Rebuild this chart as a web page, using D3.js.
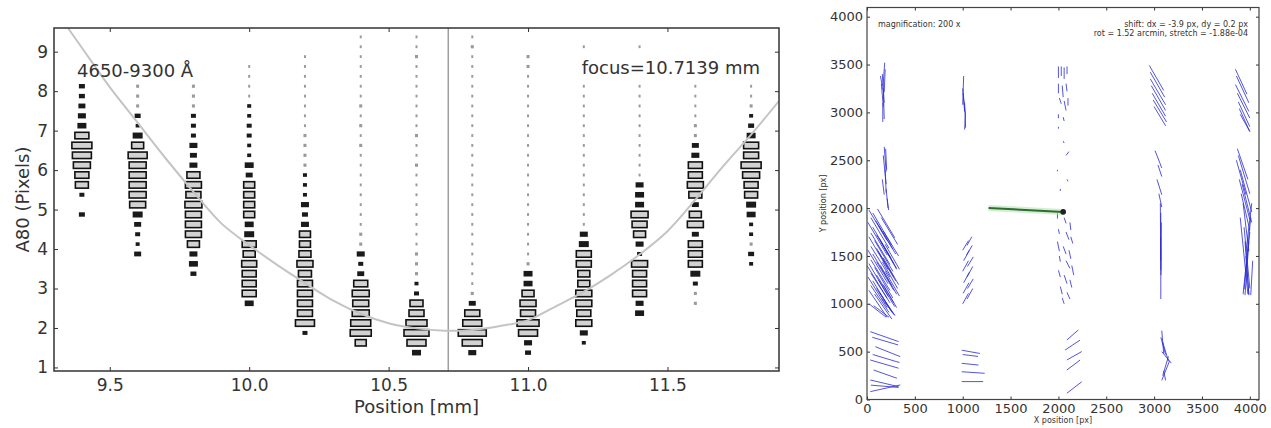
<!doctype html>
<html lang="en">
<head>
<meta charset="utf-8">
<title>A80 focus curve and field distortion</title>
<script src="https://d3js.org/d3.v7.min.js"></script>
<style>
body { margin: 0; background: #fff; }
text { font-family: "DejaVu Sans", sans-serif; fill: #333; }
.axis line { stroke: #333; }
.axis path { display: none; }
</style>
</head>
<body>
<svg width="1271" height="428"></svg>
<script>
// ---- left panel: A80 distribution per focus position ----
var positions = [9.4, 9.6, 9.8, 10.0, 10.2, 10.4, 10.6, 10.8, 11.0, 11.2, 11.4, 11.6, 11.8];
var a80Bins = [1.375, 1.625, 1.875, 2.125, 2.375, 2.625, 2.875, 3.125, 3.375, 3.625, 3.875,
  4.125, 4.375, 4.625, 4.875, 5.125, 5.375, 5.625, 5.875, 6.125, 6.375, 6.625, 6.875,
  7.125, 7.375, 7.625, 7.875, 8.125, 8.375, 8.625, 8.875, 9.125, 9.375];
// star counts per bin, bottom (1.375) to top (9.375)
var counts = [
  [0,0,0,0,0,0,0,0,0,0,0,0,0,0,6,0,5,13,14,17,19,20,14,9,8,7,6,6,0,0,0,0,0],
  [0,0,0,0,0,0,0,0,0,0,7,4,5,7,10,16,17,17,17,17,19,12,10,4,6,3,3,3,0,0,0,0,0],
  [0,0,0,0,0,0,0,0,6,9,8,12,16,16,16,17,15,16,13,8,7,8,5,5,5,3,3,3,0,0,0,0,0],
  [0,0,0,0,0,9,14,14,14,15,12,14,10,9,11,11,11,11,7,9,4,4,5,5,4,4,2,2,2,2,0,0,0],
  [0,0,5,19,15,15,15,15,13,16,12,11,11,8,6,8,4,4,4,3,3,3,3,2,2,2,2,2,2,2,2,0,0],
  [0,11,21,20,17,16,17,14,7,5,8,3,3,2,2,2,2,2,2,2,2,3,2,3,2,3,2,2,2,2,2,2,2],
  [9,19,25,21,15,13,5,4,3,3,3,2,2,2,2,2,2,2,2,3,2,2,3,2,2,2,2,2,2,2,3,2,2],
  [8,20,28,19,15,7,3,2,2,2,2,2,2,2,2,2,2,2,2,2,2,2,2,2,2,2,2,2,2,2,2,3,2],
  [6,8,19,22,15,16,12,9,9,3,2,2,2,2,2,2,2,2,2,2,2,2,2,2,2,2,2,2,2,3,3,0,0],
  [0,4,8,16,14,16,16,12,12,15,15,10,8,2,2,2,2,2,2,2,2,2,2,2,2,2,2,2,0,0,0,2,0],
  [0,0,0,0,9,8,14,14,14,16,5,8,12,15,17,9,9,8,2,2,2,2,2,2,2,2,2,2,0,0,0,2,0],
  [0,0,0,0,0,3,3,5,10,14,14,14,7,16,12,7,13,16,14,14,8,7,3,3,2,2,2,2,0,0,0,0,0],
  [0,0,0,0,0,0,0,0,0,4,6,3,4,4,9,10,13,14,17,20,15,15,9,6,4,3,2,2,0,0,0,0,0]
];
// fitted focus curve
var fitPos = [9.35, 9.4, 9.5, 9.6, 9.7, 9.8, 9.9, 10.0, 10.1, 10.2, 10.3, 10.4, 10.5, 10.6,
  10.7, 10.8, 10.9, 11.0, 11.1, 11.2, 11.3, 11.4, 11.5, 11.6, 11.7, 11.8, 11.9];
var fitA80 = [9.6, 9.1, 8.1, 7.2, 6.3, 5.45, 4.65, 4.1, 3.6, 3.14, 2.7, 2.36, 2.12, 1.99,
  1.93, 1.95, 2.05, 2.2, 2.55, 2.92, 3.36, 3.86, 4.45, 5.25, 6.1, 6.9, 7.75];
var focus = 10.7139;
var xTicks = [9.5, 10.0, 10.5, 11.0, 11.5];
var yTicks = [1, 2, 3, 4, 5, 6, 7, 8, 9];

// ---- right panel: residual vectors (x, y, dx, dy in px) ----
var magnification = 200;
var shift = { x: 2050, y: 1960, dx: -3.9, dy: 0.2 };
var colA = [
  [34,709,1.48,-0.52],[55,650,1.35,-0.40],[87,552,1.30,-0.52],[60,470,1.40,-0.42],
  [34,413,1.48,-0.43],[69,308,1.22,-0.43],[34,204,1.48,-0.35],[40,150,1.45,-0.12],[34,82,1.57,0.35],
  [20,1980,0.95,-1.6],[60,1950,1.0,-1.7],[110,1990,0.9,-1.5],[150,1900,0.85,-1.4],
  [10,1850,1.0,-1.7],[60,1800,0.95,-1.6],[120,1820,0.9,-1.5],[170,1760,0.8,-1.3],
  [20,1700,1.0,-1.7],[80,1660,0.95,-1.6],[130,1680,0.9,-1.55],[190,1620,0.75,-1.3],
  [10,1560,1.05,-1.75],[60,1520,1.0,-1.65],[120,1540,0.9,-1.5],[170,1480,0.8,-1.4],
  [20,1420,1.0,-1.7],[80,1380,0.95,-1.6],[140,1400,0.85,-1.5],[190,1340,0.75,-1.3],
  [10,1280,1.0,-1.6],[60,1240,0.95,-1.55],[120,1250,0.85,-1.4],[170,1200,0.7,-1.2],
  [20,1140,0.95,-1.4],[80,1100,0.9,-1.3],[130,1120,0.8,-1.2],[20,1000,0.9,-0.7],[70,980,0.8,-0.6],
  [40,1900,0.95,-1.6],[90,1870,0.9,-1.5],[40,1740,1.0,-1.65],[100,1720,0.9,-1.5],
  [150,1640,0.8,-1.4],[40,1600,1.0,-1.6],[100,1580,0.9,-1.5],[40,1460,1.0,-1.6],
  [100,1440,0.9,-1.5],[160,1440,0.8,-1.4],[40,1320,1.0,-1.55],[100,1300,0.9,-1.45],
  [40,1190,0.95,-1.4],[100,1160,0.85,-1.3],[150,1060,0.7,-0.9],[0,1400,1.05,-1.7],
  [180,2640,0.10,-1.3],[170,2550,0.15,-1.5],[190,2400,0.05,-1.2],[200,2200,0.10,-1.0],
  [210,2100,0.08,-0.6],[160,2300,0.1,-0.8],[195,2620,0.05,-1.1],
  [185,3520,-0.10,-1.4],[160,3400,0.10,-1.5],[150,3300,0.10,-1.2],[170,3250,0.05,-1.6],
  [165,3100,0.0,-1.0],[140,3380,0.1,-0.5],[190,3450,-0.05,-1.2]
];
var colB = [
  [1010,3380,-0.05,-1.5],[1000,3250,0.10,-1.2],[1020,3100,0.05,-1.3],[1030,3000,-0.05,-0.9],[1005,3200,0.10,-1.0],
  [1000,1000,0.3,0.55],[1045,1050,0.3,0.55],[1005,1110,0.3,0.55],[1050,1160,0.3,0.5],
  [1010,1220,0.3,0.55],[1045,1280,0.3,0.55],[1000,1340,0.3,0.55],[1050,1390,0.3,0.5],
  [1010,1450,0.3,0.55],[1040,1510,0.3,0.5],[1000,1560,0.3,0.5],[1045,1610,0.25,0.45],
  [990,515,0.95,-0.17],[1000,470,0.80,-0.10],[990,378,0.87,-0.09],[990,290,1.20,-0.08],[990,187,1.12,0.0]
];
var colC = [
  [2000,3480,0.0,-0.6],[2030,3480,0.0,-0.5],[2060,3470,0.0,-0.6],[2090,3480,0.0,-0.4],
  [2000,3300,0.0,-0.5],[2040,3280,0.05,-0.6],[2080,3300,0.05,-0.4],[2010,3150,0.1,-0.3],
  [2060,3120,0.1,-0.5],[2100,3150,0.0,-0.4],[2000,2980,0.0,-0.2],[2050,2950,0.05,-0.2],
  [2000,2850,0.0,-0.1],[2050,2700,0.05,-0.1],[2080,2550,0.15,0.2],[1990,2400,0.0,-0.08],
  [2090,2300,0.05,-0.1],[2020,2200,0.0,-0.1],
  [1990,1950,0.0,-0.3],[2060,1900,0.1,-0.3],[2120,1850,0.05,-0.4],[2000,1780,0.05,-0.25],
  [2080,1750,0.15,-0.4],[2130,1700,0.1,-0.35],[1990,1650,0.1,-0.5],[2050,1600,0.15,-0.4],
  [2110,1560,0.1,-0.45],[2010,1500,0.05,-0.3],[2080,1450,0.2,-0.4],[2140,1400,0.1,-0.5],
  [2000,1350,0.1,-0.35],[2060,1300,0.15,-0.45],[2120,1250,0.1,-0.4],[2020,1180,0.1,-0.4],
  [2090,1120,0.15,-0.35],[2040,1060,0.1,-0.3],
  [2088,622,0.60,0.52],[2070,517,0.78,0.52],[2088,413,0.78,0.44],[2088,308,0.69,0.52],[2088,65,0.78,0.60]
];
var colD = [
  [2950,3490,0.75,-1.3],[2960,3420,0.75,-1.3],[2960,3350,0.80,-1.35],[2970,3280,0.75,-1.3],
  [2980,3200,0.70,-1.2],[2990,3130,0.70,-1.15],[3000,3060,0.60,-1.0],
  [3010,2600,0.35,-0.9],[3040,2450,0.2,-0.6],[3030,2300,0.25,-0.8],[3050,2150,0.15,-0.7],
  [3065,2050,0.02,-3.0],[3070,1950,0.0,-4.5],[3075,1850,-0.02,-2.5],[3068,1700,0.02,-2.0],
  [3080,720,0.10,-1.2],[3070,650,0.25,-0.9],[3090,600,0.30,-1.0],[3150,450,-0.30,-1.0],
  [3080,500,0.50,-0.6],[3160,400,-0.40,-1.0],[3100,300,0.10,-0.5]
];
var colE = [
  [3850,3450,0.6,-1.3],[3860,3380,0.65,-1.4],[3850,3290,0.7,-1.4],[3870,3200,0.65,-1.3],
  [3880,3110,0.6,-1.3],[3890,3040,0.55,-1.2],[3900,2980,0.5,-0.9],
  [3870,2620,0.55,-1.6],[3880,2550,0.6,-2.0],[3900,2400,0.6,-2.2],[3920,2250,0.5,-2.0],
  [3900,1900,0.4,-4.0],[4010,1900,-0.4,-4.0],[3930,2050,0.3,-2.5],[4020,2050,-0.3,-2.5],
  [3950,1650,0.2,-2.8],[3990,1650,-0.2,-2.8],
  [3860,2500,0.5,-1.8],[3890,2300,0.55,-2.1],[3910,2150,0.45,-1.9],[3940,1800,0.3,-3.2],
  [4000,1750,-0.3,-3.0],[3960,1500,0.15,-2.0],[4030,1450,-0.1,-1.8]
];
var gridTicks = [0, 500, 1000, 1500, 2000, 2500, 3000, 3500, 4000];

var svg = d3.select('svg');

// ================= left panel =================
var L = { left: 54, right: 779, top: 28, bottom: 371 };
var x = d3.scaleLinear().domain([9.3, 11.9]).range([L.left, L.right]);
var y = d3.scaleLinear().domain([0.91, 9.6]).range([L.bottom, L.top]);
var width = d3.scaleLinear().domain([0, 28]).range([0, 28]);
var markH = function(n) { return Math.min(6.5, 2 + n * 0.4); };

svg.append('clipPath').attr('id', 'clipL').append('rect')
  .attr('x', L.left).attr('y', L.top)
  .attr('width', L.right - L.left).attr('height', L.bottom - L.top);

var gl = svg.append('g').attr('clip-path', 'url(#clipL)');

gl.append('line')
  .attr('x1', x(focus)).attr('x2', x(focus))
  .attr('y1', L.top).attr('y2', L.bottom)
  .attr('stroke', '#9a9a9a').attr('stroke-width', 1.4);

var cells = [];
positions.forEach(function(p, i) {
  counts[i].forEach(function(c, j) {
    if (c > 0) cells.push({ pos: p, a80: a80Bins[j], n: c });
  });
});

gl.selectAll('rect.mk')
  .data(cells)
  .enter().append('rect')
    .attr('class', 'mk')
    .attr('x', function(d) { return x(d.pos) - width(d.n) / 2; })
    .attr('y', function(d) { return y(d.a80) - markH(d.n) / 2; })
    .attr('width', function(d) { return width(d.n); })
    .attr('height', function(d) { return markH(d.n); })
    .attr('fill', function(d) { return d.n >= 11 ? '#d2d2d2' : (d.n <= 3 ? '#9a9a9a' : '#1a1a1a'); })
    .attr('stroke', function(d) { return d.n >= 11 ? '#111' : 'none'; })
    .attr('stroke-width', 1.6);

gl.append('path')
  .datum(d3.zip(fitPos, fitA80))
  .attr('fill', 'none')
  .attr('stroke', '#c4c4c4')
  .attr('stroke-width', 2)
  .attr('d', d3.line()
    .x(function(d) { return x(d[0]); })
    .y(function(d) { return y(d[1]); })
    .curve(d3.curveCatmullRom));

// axes, ticks pointing in
svg.append('g').attr('class', 'axis')
  .attr('transform', 'translate(0,' + L.bottom + ')')
  .call(d3.axisBottom(x).tickValues(xTicks).tickFormat(d3.format('.1f')).tickSize(-4).tickPadding(8))
  .selectAll('text').style('font-size', '17px').attr('fill', '#333');
svg.append('g').attr('class', 'axis')
  .attr('transform', 'translate(0,' + L.top + ')')
  .call(d3.axisTop(x).tickValues(xTicks).tickFormat('').tickSize(-4));
svg.append('g').attr('class', 'axis')
  .attr('transform', 'translate(' + L.left + ',0)')
  .call(d3.axisLeft(y).tickValues(yTicks).tickFormat(d3.format('d')).tickSize(-4).tickPadding(6))
  .selectAll('text').style('font-size', '17px').attr('fill', '#333');
svg.append('g').attr('class', 'axis')
  .attr('transform', 'translate(' + L.right + ',0)')
  .call(d3.axisRight(y).tickValues(yTicks).tickFormat('').tickSize(-4));

svg.append('rect')
  .attr('x', L.left).attr('y', L.top)
  .attr('width', L.right - L.left).attr('height', L.bottom - L.top)
  .attr('fill', 'none').attr('stroke', '#333').attr('stroke-width', 1.5);

svg.append('text')
  .attr('x', (L.left + L.right) / 2).attr('y', 413)
  .attr('text-anchor', 'middle').style('font-size', '18px')
  .text('Position [mm]');
svg.append('text')
  .attr('transform', 'translate(29,' + (L.top + L.bottom) / 2 + ') rotate(-90)')
  .attr('text-anchor', 'middle').style('font-size', '18px')
  .text('A80 (Pixels)');
svg.append('text')
  .attr('x', 77).attr('y', 77).style('font-size', '18px')
  .text('4650-9300 Å');
svg.append('text')
  .attr('x', 760).attr('y', 74).attr('text-anchor', 'end').style('font-size', '18px')
  .text('focus=' + focus + ' mm');

// ================= right panel =================
var R = { left: 867, right: 1259, top: 7.5, bottom: 399.5 };
var rx = d3.scaleLinear().domain([0, 4096]).range([R.left, R.right]);
var ry = d3.scaleLinear().domain([0, 4096]).range([R.bottom, R.top]);

svg.append('clipPath').attr('id', 'clipR').append('rect')
  .attr('x', R.left).attr('y', R.top)
  .attr('width', R.right - R.left).attr('height', R.bottom - R.top);
var gr = svg.append('g').attr('clip-path', 'url(#clipR)');

var vectors = colA.concat(colB, colC, colD, colE);
gr.selectAll('line.vec')
  .data(vectors)
  .enter().append('line')
    .attr('class', 'vec')
    .attr('x1', function(d) { return rx(d[0]); })
    .attr('y1', function(d) { return ry(d[1]); })
    .attr('x2', function(d) { return rx(d[0] + magnification * d[2]); })
    .attr('y2', function(d) { return ry(d[1] + magnification * d[3]); })
    .attr('stroke', '#2a2ad0')
    .attr('stroke-opacity', 0.8)
    .attr('stroke-width', 1);

var sx2 = shift.x + magnification * shift.dx, sy2 = shift.y + magnification * shift.dy;
gr.append('line')
  .attr('x1', rx(shift.x)).attr('y1', ry(shift.y))
  .attr('x2', rx(sx2)).attr('y2', ry(sy2))
  .attr('stroke', '#b9e0b9').attr('stroke-width', 6).attr('stroke-opacity', 0.6);
gr.append('line')
  .attr('x1', rx(shift.x)).attr('y1', ry(shift.y))
  .attr('x2', rx(sx2)).attr('y2', ry(sy2))
  .attr('stroke', '#2d6e2d').attr('stroke-width', 2);
gr.append('circle')
  .attr('cx', rx(shift.x)).attr('cy', ry(shift.y)).attr('r', 2.8)
  .attr('fill', '#222');

svg.append('g').attr('class', 'axis')
  .attr('transform', 'translate(0,' + R.bottom + ')')
  .call(d3.axisBottom(rx).tickValues(gridTicks).tickFormat(d3.format('d')).tickSize(-3).tickPadding(4))
  .selectAll('text').style('font-size', '13px').attr('fill', '#444');
svg.append('g').attr('class', 'axis')
  .attr('transform', 'translate(0,' + R.top + ')')
  .call(d3.axisTop(rx).tickValues(gridTicks).tickFormat('').tickSize(-3));
svg.append('g').attr('class', 'axis')
  .attr('transform', 'translate(' + R.left + ',0)')
  .call(d3.axisLeft(ry).tickValues(gridTicks).tickFormat(d3.format('d')).tickSize(-3).tickPadding(4))
  .selectAll('text').style('font-size', '13px').attr('fill', '#444');
svg.append('g').attr('class', 'axis')
  .attr('transform', 'translate(' + R.right + ',0)')
  .call(d3.axisRight(ry).tickValues(gridTicks).tickFormat('').tickSize(-3));

svg.append('rect')
  .attr('x', R.left).attr('y', R.top)
  .attr('width', R.right - R.left).attr('height', R.bottom - R.top)
  .attr('fill', 'none').attr('stroke', '#444').attr('stroke-width', 1.2);

svg.append('text')
  .attr('x', (R.left + R.right) / 2).attr('y', 423)
  .attr('text-anchor', 'middle').style('font-size', '8px').attr('fill', '#666')
  .text('X position [px]');
svg.append('text')
  .attr('transform', 'translate(826,' + (R.top + R.bottom) / 2 + ') rotate(-90)')
  .attr('text-anchor', 'middle').style('font-size', '8px').attr('fill', '#666')
  .text('Y position [px]');
svg.append('text')
  .attr('x', 878).attr('y', 27).style('font-size', '8px')
  .text('magnification: ' + magnification + ' x');
svg.append('text')
  .attr('x', 1248).attr('y', 27).attr('text-anchor', 'end').style('font-size', '8px')
  .text('shift: dx = ' + shift.dx + ' px, dy = ' + shift.dy + ' px');
svg.append('text')
  .attr('x', 1248).attr('y', 36).attr('text-anchor', 'end').style('font-size', '8px')
  .text('rot = 1.52 arcmin, stretch = -1.88e-04');
</script>
</body>
</html>
